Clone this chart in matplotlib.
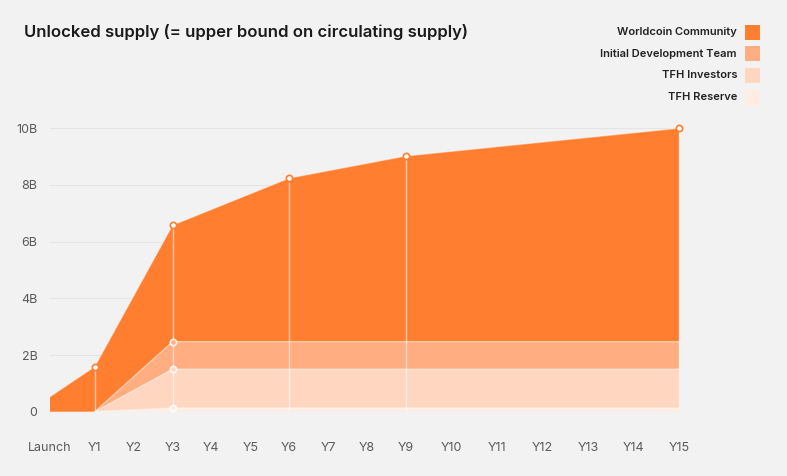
import numpy as np
import matplotlib
matplotlib.use("Agg")
import matplotlib.pyplot as plt
from matplotlib.patches import Rectangle

# data (billions of tokens, stacked layers)
categories = ["Launch"] + [f"Y{i}" for i in range(1, 16)]
periods = ["Launch", "Y1", "Y3", "Y6", "Y9", "Y15"]
reserve = [0, 0, 0.13, 0.13, 0.13, 0.13]
investors = [0, 0, 1.37, 1.37, 1.37, 1.37]
dev_team = [0, 0, 0.97, 0.97, 0.97, 0.97]
community = [0.53, 1.59, 4.11, 5.77, 6.55, 7.53]

series_names = ["Worldcoin Community", "Initial Development Team",
                "TFH Investors", "TFH Reserve"]
colors = ["#FF7E2F", "#FFAD81", "#FFD6BF", "#FFEDE3"]

yticks = [0, 2, 4, 6, 8, 10]
ytick_labels = ["0", "2B", "4B", "6B", "8B", "10B"]

# category axis: two-digit labels get a bit more room
steps = [1.15] + [1.0] * 8 + [1.17] * 6
cat_pos = np.concatenate([[0], np.cumsum(steps)])
pos = dict(zip(categories, cat_pos))
x = np.array([pos[p] for p in periods])

bg = "#F2F2F2"
plt.rcParams["font.family"] = ["Inter", "DejaVu Sans"]

fig = plt.figure(figsize=(7.87, 4.76), dpi=100, facecolor=bg)
W, H = 787, 476
ax = fig.add_axes([50 / W, 64.3 / H, 629 / W, 283.5 / H], facecolor=bg)

layers = [reserve, investors, dev_team, community]
ax.stackplot(x, *layers, colors=colors[::-1], linewidth=0, zorder=2)

cum = np.cumsum(np.array(layers, dtype=float), axis=0)
tops = cum[::-1]  # community, dev, investors, reserve

# light edges along tops of layers
for i, t in enumerate(tops):
    start = 0 if i == 0 else 1
    ax.plot(x[start:], t[start:], color="white", lw=1.0, alpha=0.45, zorder=3)

# vertical guides at key periods
ax.vlines(x[1:], 0, tops[0][1:], color="white", lw=1.0, alpha=0.6, zorder=3)

# markers
ax.plot(x[1:], tops[0][1:], "o", ms=4.5, mfc="white", mec=colors[0], mew=1.2,
        zorder=5, clip_on=False)
y3 = periods.index("Y3")
for t, c in zip(tops[1:], colors[1:]):
    ax.plot(x[y3], t[y3], "o", ms=4.5, mfc=c, mec="white", mew=1.2,
            alpha=0.9, zorder=5, clip_on=False)

ax.set_xlim(0, cat_pos[-1])
ax.set_ylim(0, 10)
ax.set_xticks(cat_pos)
ax.set_xticklabels(categories)
ax.set_yticks(yticks)
ax.set_yticklabels(ytick_labels)
ax.tick_params(length=0, labelsize=9, labelcolor="#5A5A5A")
ax.tick_params(axis="x", pad=22)
ax.tick_params(axis="y", pad=9)
ax.grid(axis="y", color="#E4E4E4", lw=0.8, zorder=1)
for s in ax.spines.values():
    s.set_visible(False)

fig.text(24 / W, 1 - 32 / H, "Unlocked supply (= upper bound on circulating supply)",
         fontsize=12, fontweight="semibold", color="#1A1A1A", va="center")

# legend
for i, (name, c) in enumerate(zip(series_names, colors)):
    yc = 32 + i * 21.7
    fig.text(737 / W, 1 - yc / H, name, ha="right", va="center",
             fontsize=8, fontweight="semibold", color="#222222")
    fig.patches.append(Rectangle((745 / W, 1 - (yc + 7.5) / H), 15 / W, 15 / H,
                                 transform=fig.transFigure, facecolor=c,
                                 edgecolor="none"))

fig.savefig("out.png", dpi=100, facecolor=bg)
